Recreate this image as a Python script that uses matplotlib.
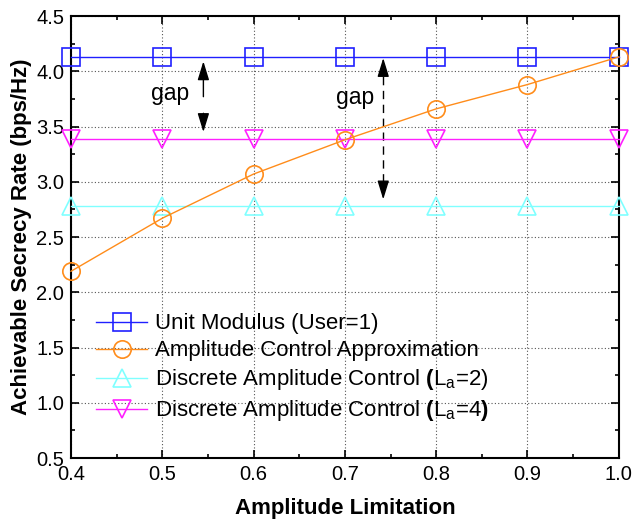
import matplotlib
matplotlib.use('Agg')
import matplotlib.pyplot as plt
import numpy as np
from matplotlib.ticker import MultipleLocator

plt.rcParams['font.family'] = ['Liberation Sans', 'DejaVu Sans']
plt.rcParams['mathtext.fontset'] = 'custom'
plt.rcParams['mathtext.rm'] = 'Liberation Sans'
plt.rcParams['mathtext.it'] = 'Liberation Sans'
plt.rcParams['mathtext.bf'] = 'Liberation Sans:bold'

# data
amp = [0.4, 0.5, 0.6, 0.7, 0.8, 0.9, 1.0]
unit_mod = [4.13, 4.13, 4.13, 4.13, 4.13, 4.13, 4.13]
amp_approx = [2.19, 2.67, 3.07, 3.38, 3.66, 3.88, 4.13]
disc_la2 = [2.78, 2.78, 2.78, 2.78, 2.78, 2.78, 2.78]
disc_la4 = [3.39, 3.39, 3.39, 3.39, 3.39, 3.39, 3.39]

labels = ['Unit Modulus (User=1)',
          'Amplitude Control Approximation',
          r'Discrete Amplitude Control $\mathbf{(}$L$_{\mathrm{a}}$=2)',
          r'Discrete Amplitude Control $\mathbf{(}$L$_{\mathrm{a}}$=4$\mathbf{)}$']

fig = plt.figure(figsize=(6.34, 5.22), dpi=100)
ax = fig.add_axes([0.112, 0.1226, 0.864, 0.8467])

ms = 12.5
ax.plot(amp, unit_mod, '-s', color='#2020ff', lw=1, ms=ms, mfc='none', mew=1.2, label=labels[0], clip_on=False, zorder=3)
ax.plot(amp, amp_approx, '-o', color='#ff8c1a', lw=1, ms=ms, mfc='none', mew=1.2, label=labels[1], clip_on=False, zorder=4)
ax.plot(amp, disc_la2, '-^', color='#80ffff', lw=1, ms=ms, mfc='none', mew=1.2, label=labels[2], clip_on=False, zorder=3)
ax.plot(amp, disc_la4, '-v', color='#ff20ff', lw=1, ms=ms, mfc='none', mew=1.2, label=labels[3], clip_on=False, zorder=3)

# gap annotations
ap = dict(arrowstyle='-|>,head_length=0.52,head_width=0.16', color='k', lw=1, mutation_scale=22, shrinkA=0, shrinkB=0)
ax.annotate('', xy=(0.545, 4.09), xytext=(0.545, 3.77), arrowprops=ap)
ax.annotate('', xy=(0.545, 3.45), xytext=(0.545, 3.62), arrowprops=ap)
ax.text(0.509, 3.80, 'gap', fontsize=16.5, ha='center', va='center')

ax.plot([0.742, 0.742], [3.0, 3.97], color='k', lw=1, dashes=(6, 4))
ax.annotate('', xy=(0.742, 4.12), xytext=(0.742, 3.97), arrowprops=ap)
ax.annotate('', xy=(0.742, 2.84), xytext=(0.742, 2.99), arrowprops=ap)
ax.text(0.711, 3.76, 'gap', fontsize=16.5, ha='center', va='center')

ax.set_xlim(0.4, 1.0)
ax.set_ylim(0.5, 4.5)
ax.xaxis.set_major_locator(MultipleLocator(0.1))
ax.xaxis.set_minor_locator(MultipleLocator(0.05))
ax.yaxis.set_major_locator(MultipleLocator(0.5))
ax.yaxis.set_minor_locator(MultipleLocator(0.25))
ax.tick_params(which='both', direction='in', top=True, right=True, labelsize=14.5, width=1.2)
ax.tick_params(which='major', length=6, pad=5)
ax.tick_params(which='minor', length=3)
ax.grid(True, which='major', linestyle=(0, (1, 2)), color='#555555', lw=0.8)
for s in ax.spines.values():
    s.set_linewidth(1.5)

ax.set_xlabel('Amplitude Limitation', fontsize=16, fontweight='bold', labelpad=10)
ax.set_ylabel('Achievable Secrecy Rate (bps/Hz)', fontsize=16, fontweight='bold', labelpad=3)

ax.legend(loc='lower left', bbox_to_anchor=(0.03, 0.058), frameon=False, fontsize=16,
          handlelength=2.3, handletextpad=0.35, labelspacing=0.27, borderaxespad=0.0)

fig.savefig('out.png', dpi=100)
